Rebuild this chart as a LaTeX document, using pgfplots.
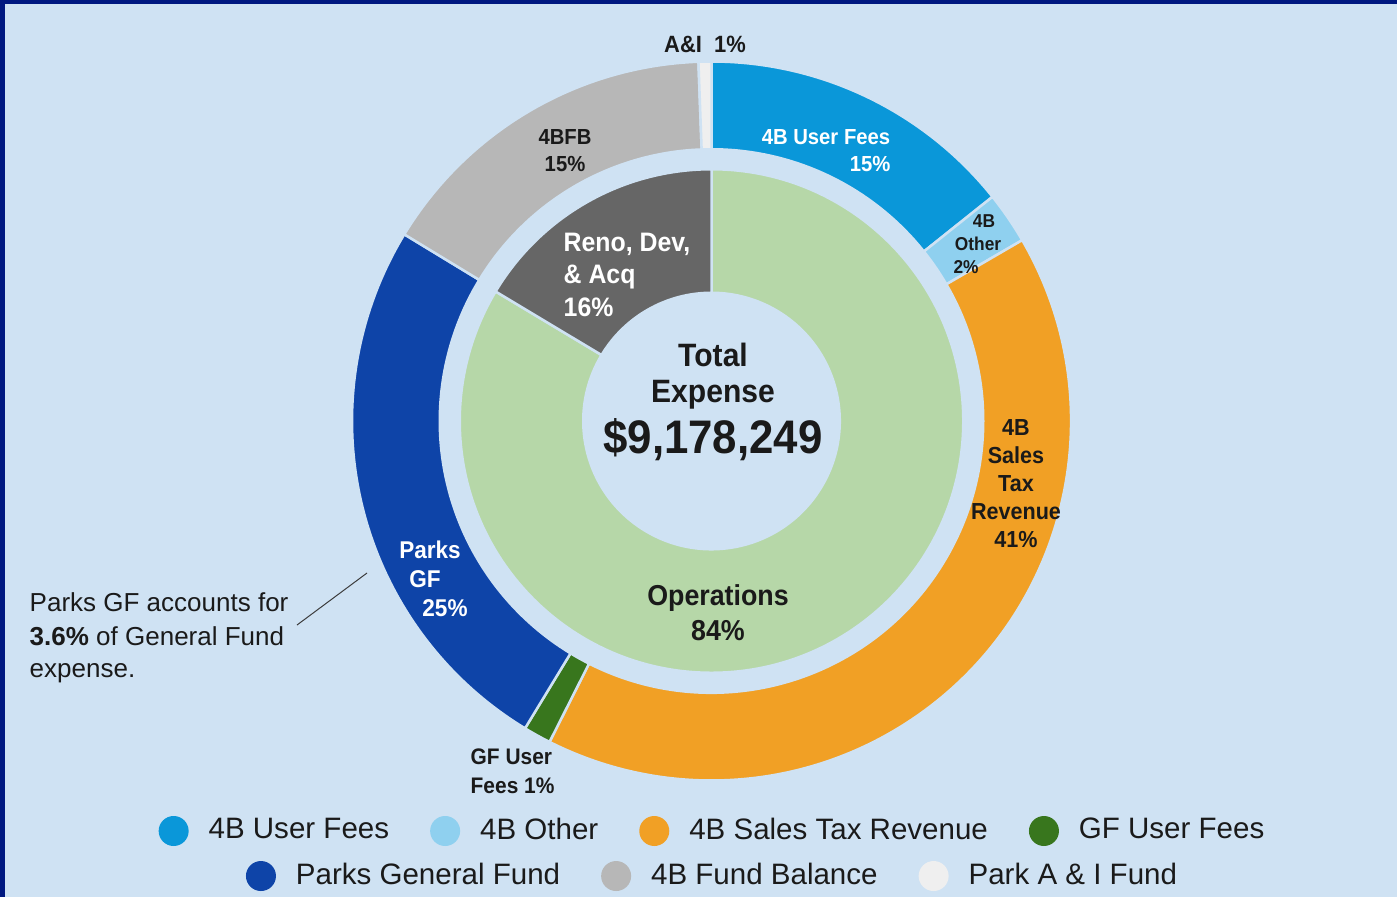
\documentclass[border=0pt]{standalone}
\usepackage{pgfplots}
\pgfplotsset{compat=1.18}
\usepackage{fontspec}
\setmainfont{Liberation Sans}
\newfontfamily\lab[FakeStretch=0.93]{Liberation Sans}
\definecolor{bgc}{HTML}{CFE2F3}
\definecolor{brd}{RGB}{0,24,128}
\definecolor{cUF}{HTML}{0A97D9}
\definecolor{cOther}{HTML}{8FD0EF}
\definecolor{cSales}{HTML}{F1A025}
\definecolor{cGF}{HTML}{38761D}
\definecolor{cParks}{HTML}{0E44A8}
\definecolor{cFB}{HTML}{B7B7B7}
\definecolor{cAI}{HTML}{EFEFEF}
\definecolor{cOps}{HTML}{B6D7A8}
\definecolor{cReno}{HTML}{666666}
\definecolor{txt}{HTML}{1A1A1A}
% annular sector: colour, start %, end %, inner radius, outer radius (px)
\newcommand{\ring}[5]{%
  \fill[#1, draw=bgc, line width=0.25mm] (axis cs:711.5,476) ++({90-3.6*(#2)}:{#5*0.1mm})
    arc[start angle={90-3.6*(#2)}, end angle={90-3.6*(#3)}, radius={#5*0.1mm}]
    -- ++({270-3.6*(#3)}:{(#5-#4)*0.1mm})
    arc[start angle={90-3.6*(#3)}, end angle={90-3.6*(#2)}, radius={#4*0.1mm}] -- cycle;}
% bold label: [opts]{x}{y baseline}{size pt}{text}
\newcommand{\T}[5][]{\node[anchor=base, inner sep=0pt, text=txt, #1] at (axis cs:#2,#3) {\lab\bfseries\fontsize{#4}{#4}\selectfont #5};}
\newcommand{\R}[5][]{\node[anchor=base west, inner sep=0pt, text=txt, #1] at (axis cs:#2,#3) {\fontsize{#4}{#4}\selectfont #5};}
\pgfplotsset{
  base/.style={x=0.1mm, y=0.1mm, xmin=0, xmax=1397, ymin=0, ymax=897, hide axis, clip=false,
    legend image code/.code={\fill[##1] (1.5mm,0) circle (1.5mm);},
    legend cell align=left,
    legend style={draw=none, fill=none, anchor=center, legend columns=-1,
      font=\fontsize{8.4}{10}\selectfont, text=txt,
      nodes={inner xsep=0pt, inner ysep=1pt},
      /tikz/every odd column/.append style={column sep=2.0mm},
      /tikz/every even column/.append style={column sep=4.1mm}}},
}
\begin{document}
\begin{tikzpicture}
\begin{axis}[base, legend style={at={(axis description cs:0.5093,0.0736)}}]
\fill[bgc] (axis cs:0,0) rectangle (axis cs:1397,897);
\fill[brd] (axis cs:0,0) rectangle (axis cs:5,897);
\fill[brd] (axis cs:0,893) rectangle (axis cs:1397,897);
% outer ring (funding sources), cumulative percent
\ring{cUF}{0}{14.28}{271.75}{359.5}
\ring{cOther}{14.28}{16.61}{271.75}{359.5}
\ring{cSales}{16.61}{57.44}{271.75}{359.5}
\ring{cGF}{57.44}{58.68}{271.75}{359.5}
\ring{cParks}{58.68}{83.69}{271.75}{359.5}
\ring{cFB}{83.69}{99.42}{271.75}{359.5}
\ring{cAI}{99.42}{100}{271.75}{359.5}
% inner ring (expense type)
\ring{cOps}{0}{83.6}{128.25}{251.75}
\ring{cReno}{83.6}{100}{128.25}{251.75}
\addlegendimage{fill=cUF, draw=none}\addlegendentry{4B User Fees}
\addlegendimage{fill=cOther, draw=none}\addlegendentry{4B Other}
\addlegendimage{fill=cSales, draw=none}\addlegendentry{4B Sales Tax Revenue}
\addlegendimage{fill=cGF, draw=none}\addlegendentry{GF User Fees}
% labels
\T{705}{844}{6.7}{A\&I\ \ 1\%}
\T{565}{753}{6.2}{4BFB}
\T{565}{726}{6.2}{15\%}
\T[text=white]{826}{753}{6.2}{4B User Fees}
\T[text=white, anchor=base east]{891}{726}{6.2}{15\%}
\T{984}{670}{5.3}{4B}
\T{978}{647}{5.3}{Other}
\T{966}{624}{5.3}{2\%}
\T{1016}{462}{6.6}{4B}
\T{1016}{434}{6.6}{Sales}
\T{1016}{406}{6.6}{Tax}
\T{1016}{378}{6.6}{Revenue}
\T{1016}{350}{6.6}{41\%}
\T[text=white, anchor=base west]{563}{646}{7.6}{Reno, Dev,}
\T[text=white, anchor=base west]{563}{614}{7.6}{\& Acq}
\T[text=white, anchor=base west]{563}{581}{7.6}{16\%}
\T[text=white]{430}{339}{6.9}{Parks}
\T[text=white]{425}{310}{6.9}{GF}
\T[text=white]{445}{281}{6.9}{25\%}
\T[anchor=base west]{470}{133}{6.4}{GF User}
\T[anchor=base west]{470}{104}{6.4}{Fees 1\%}
\T{718}{292}{8.2}{Operations}
\T{718}{257}{8.2}{84\%}
\T{713}{531}{9.2}{Total}
\T{713}{495}{9.2}{Expense}
\T{713}{444}{13.4}{\$9,178,249}
% annotation
\R{29}{286}{7.4}{Parks GF accounts for}
\R{29}{252}{7.4}{\textbf{3.6\%} of General Fund}
\R{29}{220}{7.4}{expense.}
\draw[txt!85!white, line width=0.1mm] (axis cs:297,272) -- (axis cs:367,324);
\end{axis}
\begin{axis}[base, legend style={at={(axis description cs:0.5093,0.0234)}}]
\addlegendimage{fill=cParks, draw=none}\addlegendentry{Parks General Fund}
\addlegendimage{fill=cFB, draw=none}\addlegendentry{4B Fund Balance}
\addlegendimage{fill=cAI, draw=none}\addlegendentry{Park A \& I Fund}
\end{axis}
\end{tikzpicture}
\end{document}
